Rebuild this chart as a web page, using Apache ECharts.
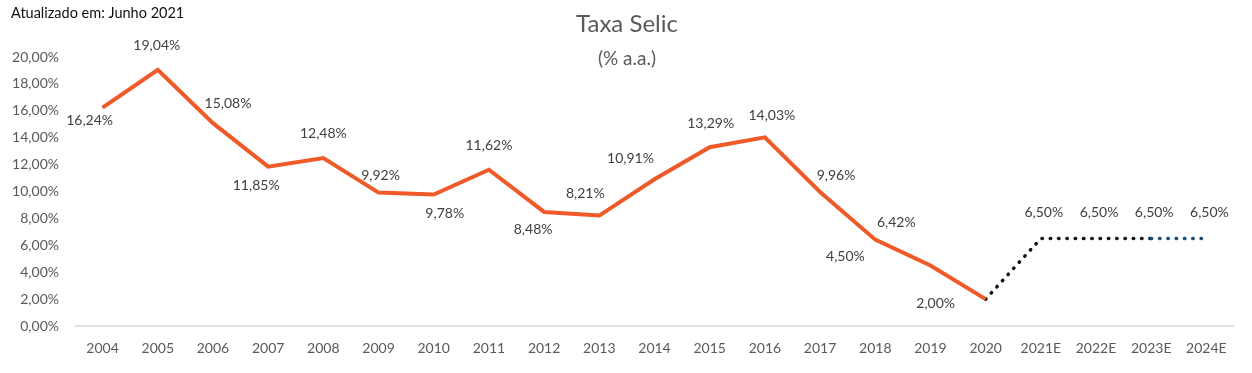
<!DOCTYPE html>
<html>
<head>
<meta charset="utf-8">
<script src="https://cdn.jsdelivr.net/npm/echarts@6/dist/echarts.min.js"></script>
<style>
html,body{margin:0;padding:0;background:#fff;}
#chart{width:1252px;height:373px;}
</style>
</head>
<body>
<div id="chart"></div>
<script>
// ---- data ----
var categories = ['2004','2005','2006','2007','2008','2009','2010','2011','2012','2013','2014','2015','2016','2017','2018','2019','2020','2021E','2022E','2023E','2024E'];
var selicHistorico = [16.24, 19.04, 15.08, 11.85, 12.48, 9.92, 9.78, 11.62, 8.48, 8.21, 10.91, 13.29, 14.03, 9.96, 6.42, 4.50, 2.00];
var selicProjecao = [6.50, 6.50, 6.50, 6.50];
var yTicks = [0, 2, 4, 6, 8, 10, 12, 14, 16, 18, 20];

// ---- label placement (style only) ----
var histLabelOffsets = [[-13,13],[-1,-24],[15,-20],[-12,19],[0,-25],[2,-17],[11,19],[0,-24],[-11,18],[-14,-22],[-24,-21],[1,-24],[7,-22],[16,-17],[21,-17],[-85,-9],[-50,4]];
var projLabelOffset = [3,-26];

function fmt(v){ return v.toFixed(2).replace('.', ',') + '%'; }

var nHist = selicHistorico.length;
var histData = categories.map(function(c, i){
  if (i < nHist) {
    return { value: selicHistorico[i], label: { offset: histLabelOffsets[i] } };
  }
  return null;
});
// projection part 1: from last historical point to 2023E (black dots)
var proj1 = categories.map(function(c, i){
  if (i === nHist - 1) return { value: selicHistorico[nHist-1], label: { show: false } };
  if (i >= nHist && i <= nHist + 2) return { value: selicProjecao[i - nHist], label: { show: true, offset: projLabelOffset } };
  return null;
});
// projection part 2: 2023E -> 2024E (dark blue dots)
var proj2 = categories.map(function(c, i){
  if (i === nHist + 2) return { value: selicProjecao[2], label: { show: false } };
  if (i === nHist + 3) return { value: selicProjecao[3], label: { show: true, offset: projLabelOffset } };
  return null;
});

var labelBase = {
  show: true,
  position: 'inside',
  fontFamily: 'Lato',
  fontSize: 14,
  color: '#404040',
  formatter: function(p){ return fmt(p.value); }
};

var chart = echarts.init(document.getElementById('chart'));
chart.setOption({
  animation: false,
  backgroundColor: '#ffffff',
  title: [
    { text: 'Taxa Selic', left: 622, top: 7, textAlign: 'center',
      textStyle: { fontFamily: 'Lato', fontSize: 24, fontWeight: 'normal', color: '#595959' } },
    { text: '(% a.a.)', left: 622, top: 44, textAlign: 'center',
      textStyle: { fontFamily: 'Lato', fontSize: 19, fontWeight: 'normal', color: '#595959' } },
    { text: 'Atualizado em: Junho 2021', left: 6, top: 1,
      textStyle: { fontFamily: 'Lato', fontSize: 14.5, fontWeight: 'normal', color: '#111111' } }
  ],
  grid: { left: 75, right: 18, top: 57, bottom: 47, containLabel: false },
  xAxis: {
    type: 'category',
    data: categories,
    boundaryGap: true,
    axisLine: { show: true, lineStyle: { color: '#d9d9d9', width: 1.5 } },
    axisTick: { show: false },
    axisLabel: { fontFamily: 'Lato', fontSize: 14, color: '#595959', margin: 15, interval: 0 },
    splitLine: { show: false }
  },
  yAxis: {
    type: 'value',
    min: yTicks[0],
    max: yTicks[yTicks.length-1],
    interval: yTicks[1] - yTicks[0],
    axisLine: { show: false },
    axisTick: { show: false },
    splitLine: { show: false },
    axisLabel: { fontFamily: 'Lato', fontSize: 14, color: '#595959', margin: 16,
      formatter: function(v){ return fmt(v); } }
  },
  series: [
    {
      type: 'line',
      data: histData,
      symbol: 'circle',
      symbolSize: 1,
      showSymbol: true,
      itemStyle: { color: 'rgba(0,0,0,0)' },
      lineStyle: { color: '#EF5A28', width: 4, join: 'miter' },
      label: labelBase,
      emphasis: { disabled: true },
      z: 3
    },
    {
      type: 'line',
      data: proj1,
      symbol: 'circle',
      symbolSize: 1,
      showSymbol: true,
      connectNulls: false,
      itemStyle: { color: 'rgba(0,0,0,0)' },
      lineStyle: { color: '#111111', width: 3.5, type: [0.5, 7.8], cap: 'round' },
      label: labelBase,
      emphasis: { disabled: true },
      z: 2
    },
    {
      type: 'line',
      data: proj2,
      symbol: 'circle',
      symbolSize: 1,
      showSymbol: true,
      itemStyle: { color: 'rgba(0,0,0,0)' },
      lineStyle: { color: '#1F4E79', width: 3.5, type: [0.5, 7.8], cap: 'round' },
      label: labelBase,
      emphasis: { disabled: true },
      z: 2
    }
  ]
});
</script>
</body>
</html>
